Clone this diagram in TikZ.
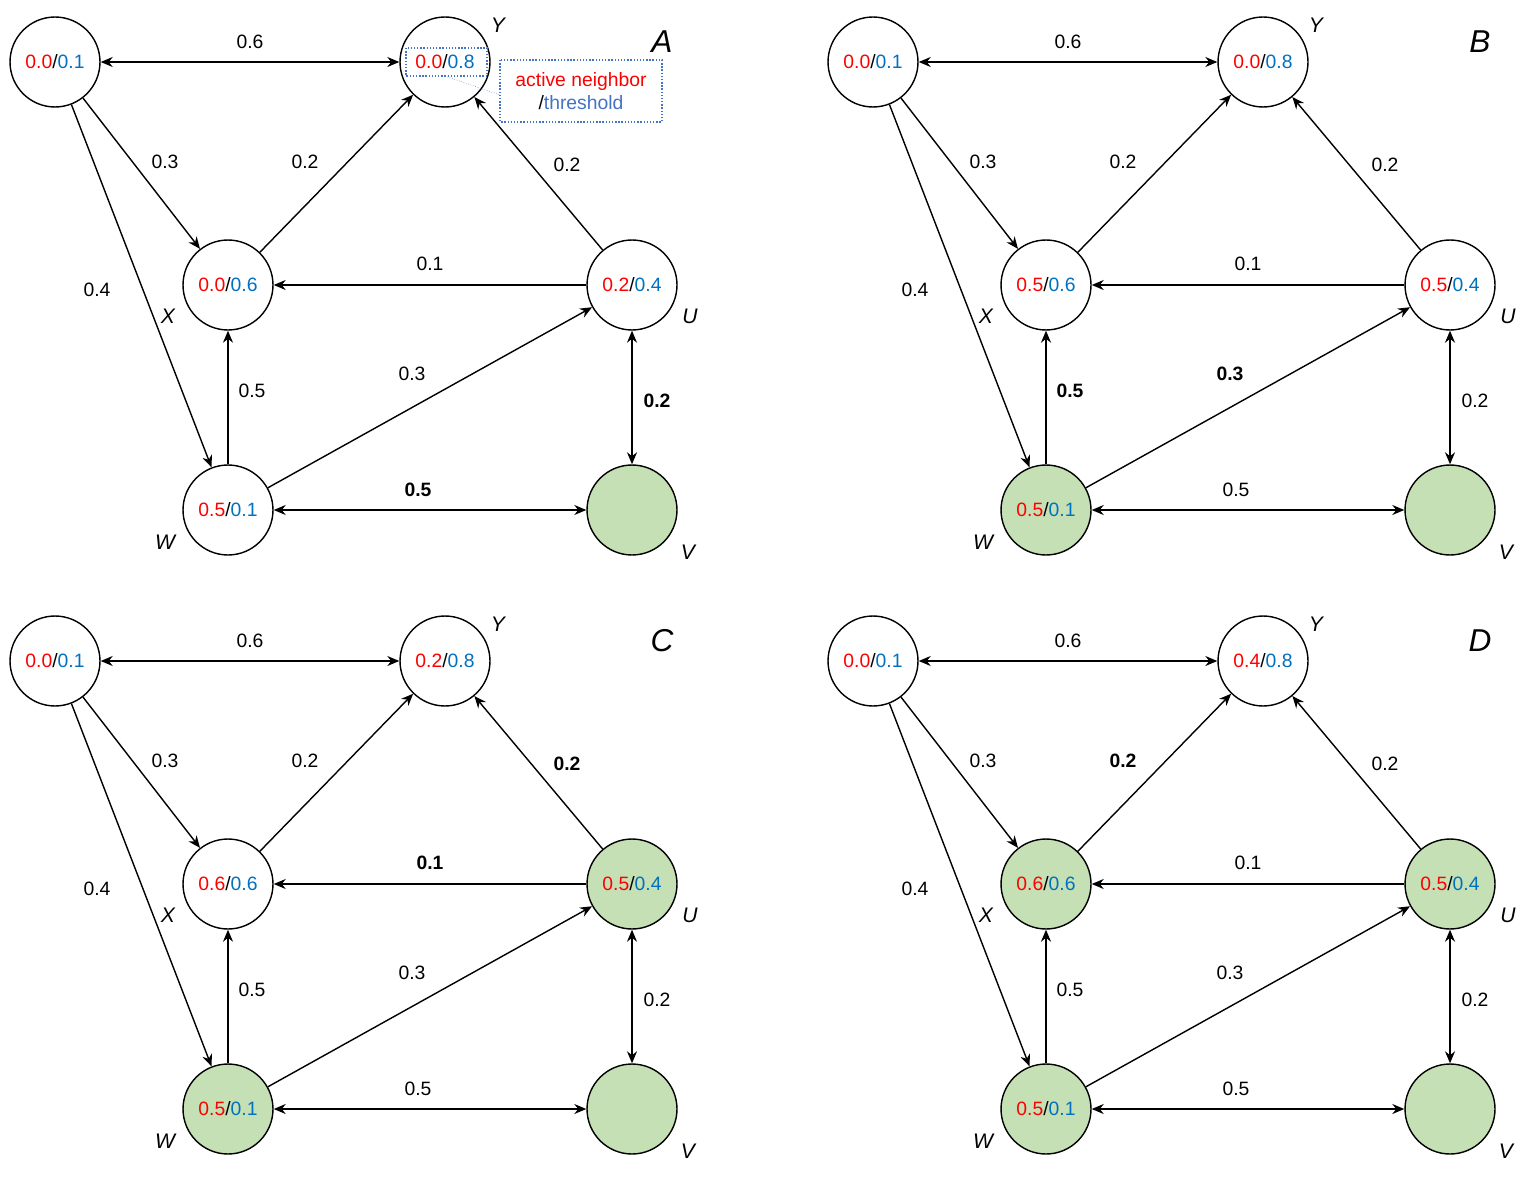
\documentclass[tikz,border=0pt]{standalone}
\usepackage{fontspec}
\setmainfont{Liberation Sans}
\usetikzlibrary{arrows.meta}
\definecolor{actRed}{HTML}{FF0000}
\definecolor{thrBlue}{HTML}{0070C0}
\definecolor{noteBlue}{HTML}{4472C4}
\definecolor{activeGreen}{HTML}{C5E0B4}
\newcommand{\nv}[2]{{\color{actRed}#1}/{\color{thrBlue}#2}}
\tikzset{
  vertex/.style = {circle, draw, thick, minimum size = 1.8cm, inner sep = 0pt, font = \fontsize{11}{13}\selectfont},
  act/.style = {fill = activeGreen},
  line/.style = {thick, -{Stealth[length = 2.4mm, width = 2mm]}},
  both/.style = {thick, {Stealth[length = 2.4mm, width = 2mm]}-{Stealth[length = 2.4mm, width = 2mm]}},
  lbl/.style = {font = \fontsize{11}{13}\selectfont},
  hot/.style = {font = \fontsize{11}{13}\selectfont\bfseries},
  vname/.style = {font = \fontsize{12}{14}\selectfont\itshape},
  panelname/.style = {font = \fontsize{18}{20}\selectfont\itshape},
  % defaults, switched per panel
  fW/.style = {}, fX/.style = {}, fU/.style = {},
  lXY/.style = {}, lUY/.style = {}, lUX/.style = {}, lWX/.style = {},
  lWU/.style = {}, lUV/.style = {}, lWV/.style = {}
}
% one panel: letter, Y, X, U active values
\newcommand{\panel}[4]{
  \node(#1T) [vertex] at (55,62) {\nv{0.0}{0.1}};
  \node(#1Y) [vertex] at (445,62) {\nv{#2}{0.8}};
  \node(#1X) [vertex, fX] at (228,285) {\nv{#3}{0.6}};
  \node(#1U) [vertex, fU] at (632,285) {\nv{#4}{0.4}};
  \node(#1W) [vertex, fW] at (228,510) {\nv{0.5}{0.1}};
  \node(#1V) [vertex, act] at (632,510) {};
  \draw[both] (#1T) -- (#1Y);
  \draw[line] (#1T) -- (#1X);
  \draw[line] (#1T) -- (#1W);
  \draw[line] (#1X) -- (#1Y);
  \draw[line] (#1U) -- (#1Y);
  \draw[line] (#1U) -- (#1X);
  \draw[line] (#1W) -- (#1X);
  \draw[line] (#1W) -- (#1U);
  \draw[both] (#1U) -- (#1V);
  \draw[both] (#1W) -- (#1V);
  \node[lbl] at (250,42) {0.6};
  \node[lbl] at (165,162) {0.3};
  \node[lbl] at (97,290) {0.4};
  \node[lbl, lXY] at (305,162) {0.2};
  \node[lbl, lUY] at (567,165) {0.2};
  \node[lbl, lUX] at (430,264) {0.1};
  \node[lbl, lWX] at (252,391) {0.5};
  \node[lbl, lWU] at (412,374) {0.3};
  \node[lbl, lUV] at (657,401) {0.2};
  \node[lbl, lWV] at (418,490) {0.5};
  \node[vname] at (498,25) {Y};
  \node[vname] at (168,316) {X};
  \node[vname] at (690,316) {U};
  \node[vname] at (165,542) {W};
  \node[vname] at (688,552) {V};
  \node[panelname] at (662,42) {#1};
}

\begin{document}
\begin{tikzpicture}[x = 0.02cm, y = -0.02cm]
  \useasboundingbox (0,0) rectangle (1531,1179);
  \begin{scope}[lUV/.style = hot, lWV/.style = hot]
    \panel{A}{0.0}{0.0}{0.2}
    % annotation
    \draw[noteBlue, densely dotted, thick] (406,48) rectangle (487,76);
    \draw[noteBlue, densely dotted, thick] (500,60) rectangle (662,122);
    \draw[noteBlue!70, densely dotted] (445,76) -- (500,95);
    \node(note) [font = \fontsize{11}{13}\selectfont, align = center] at (581,91)
      {{\color{actRed}active neighbor}\\/{\color{noteBlue}threshold}};
  \end{scope}
  \begin{scope}[shift = {(818,0)}, fW/.style = act, lWX/.style = hot, lWU/.style = hot]
    \panel{B}{0.0}{0.5}{0.5}
  \end{scope}
  \begin{scope}[shift = {(0,599)}, fW/.style = act, fU/.style = act, lUY/.style = hot, lUX/.style = hot]
    \panel{C}{0.2}{0.6}{0.5}
  \end{scope}
  \begin{scope}[shift = {(818,599)}, fW/.style = act, fX/.style = act, fU/.style = act, lXY/.style = hot]
    \panel{D}{0.4}{0.6}{0.5}
  \end{scope}
\end{tikzpicture}
\end{document}
